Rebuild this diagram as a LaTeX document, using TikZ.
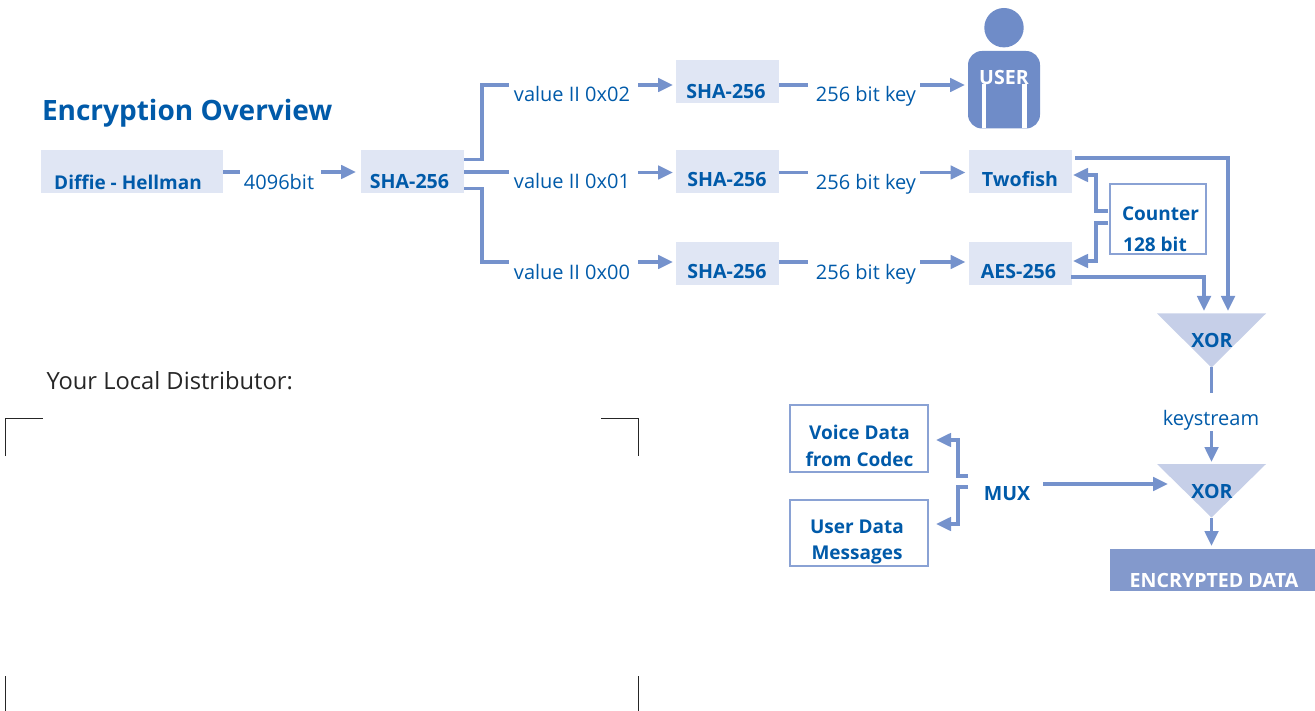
\documentclass[tikz,border=0pt]{standalone}
\usepackage{fontspec}
\setmainfont{Open Sans}
\usetikzlibrary{arrows.meta}
\definecolor{ink}{HTML}{005AA9}
\definecolor{wire}{HTML}{7592CC}
\definecolor{pale}{HTML}{E0E6F4}
\definecolor{tri}{HTML}{C6CFE8}
\definecolor{band}{HTML}{8399CC}
\definecolor{figure}{HTML}{6F8CC8}
\tikzset{
  x=1pt,y=-1pt,
  txt/.style={anchor=base,inner sep=0pt,outer sep=0pt,text=ink,yshift=-0.7pt,font=\fontsize{20}{20}\selectfont},
  btxt/.style={txt,font=\fontsize{19.6}{20}\selectfont\bfseries},
  bsmall/.style={txt,font=\fontsize{19}{20}\selectfont\bfseries},
  wtxt/.style={btxt,text=white},
  palebox/.style={fill=pale,draw=none,minimum width=103pt,minimum height=43pt,inner sep=0pt,outer sep=0pt},
  linebox/.style={draw=wire!85,line width=2pt,fill=white,inner sep=0pt,outer sep=0pt},
  link/.style={draw=wire,line width=3.2pt},
  arrow/.style={link,-{Triangle[length=15pt,width=13.5pt]}},
  crop/.style={draw=black!85,line width=1pt},
}
\begin{document}
\begin{tikzpicture}
\useasboundingbox (0,0) rectangle (1315,711);
% boxes
\node[palebox,minimum width=182pt] (dh) at (132,171.5) {};
\node[palebox] (sha) at (412.5,171.5) {};
\node[palebox] (s2) at (727.5,81.5) {};
\node[palebox] (s1) at (727.5,171.5) {};
\node[palebox] (s0) at (727.5,263.5) {};
\node[palebox] (two) at (1020.5,171.5) {};
\node[palebox] (aes) at (1020.5,263.5) {};
\node[linebox,minimum width=96pt,minimum height=70pt] (ctr) at (1158,219) {};
\node[linebox,minimum width=138pt,minimum height=67pt] (voice) at (859,438.5) {};
\node[linebox,minimum width=138pt,minimum height=66pt] (udata) at (859,533) {};
\node[fill=band,minimum width=205pt,minimum height=42pt,inner sep=0pt,outer sep=0pt] (enc) at (1212.5,570) {};
% user figure
\fill[figure] (1004,27.7) circle (19.7);
\fill[figure,rounded corners=14pt] (968,51) rectangle (1040,128.5);
\fill[white] (982,84) rectangle (986,128.5);
\fill[white] (1022,84) rectangle (1026.5,128.5);
\coordinate (user) at (968,85);
% triangles
\fill[tri] (1157,313.5) -- (1266,313.5) -- (1211.5,367.5) -- cycle;
\fill[tri] (1157,464) -- (1266,464) -- (1211.5,517.5) -- cycle;
\coordinate (x1tip) at (1211.5,367.5);
\coordinate (x2tip) at (1211.5,517.5);
% texts
\node[txt,font=\fontsize{28}{28}\selectfont\bfseries,anchor=base west] (title) at (42,120) {Encryption Overview};
\node[txt,font=\fontsize{23.7}{24}\selectfont,text=black!85,anchor=base west,yshift=0.7pt] (dist) at (46.5,389) {Your Local Distributor:};
\node[bsmall] (tdh) at (128,189) {Diffie - Hellman};
\node[txt] (bits) at (279,189) {4096bit};
\node[btxt] (tsha) at (409.5,188) {SHA-256};
\node[txt] (v2) at (572,101) {value II 0x02};
\node[txt] (v1) at (572,188) {value II 0x01};
\node[txt] (v0) at (572,279) {value II 0x00};
\node[btxt] (ts2) at (726,98) {SHA-256};
\node[btxt] (ts1) at (727,186) {SHA-256};
\node[btxt] (ts0) at (727,278) {SHA-256};
\node[txt] (k2) at (866,101) {256 bit key};
\node[txt] (k1) at (866,189) {256 bit key};
\node[txt] (k0) at (866,279) {256 bit key};
\node[wtxt] (tuser) at (1004,83.5) {USER};
\node[btxt] (ttwo) at (1020,186) {Twofish};
\node[btxt] (taes) at (1018.5,278) {AES-256};
\node[bsmall] (tc1) at (1160.5,220) {Counter};
\node[bsmall] (tc2) at (1155,251) {128 bit};
\node[btxt] (xor1) at (1212,347) {XOR};
\node[btxt] (xor2) at (1212,498) {XOR};
\node[txt] (ks) at (1211,425) {keystream};
\node[bsmall] (tv1) at (859.5,439) {Voice Data};
\node[bsmall] (tv2) at (859.5,466) {from Codec};
\node[bsmall] (tu1) at (857,533) {User Data};
\node[bsmall] (tu2) at (857,559) {Messages};
\node[btxt] (mux) at (1007,500) {MUX};
\node[wtxt] (tenc) at (1214,587) {ENCRYPTED DATA};
% free ends
\coordinate (a1) at (240,172);
\coordinate (a2) at (321,172);
\coordinate (b2) at (509,85);
\coordinate (b1) at (509,172);
\coordinate (b0) at (509,262);
\coordinate (c2) at (638,85);
\coordinate (c1) at (638,172.5);
\coordinate (c0) at (638,262);
\coordinate (d2) at (808,85);
\coordinate (d1) at (808,172.5);
\coordinate (d0) at (808,262);
\coordinate (e2) at (920,85);
\coordinate (e1) at (920,172.5);
\coordinate (e0) at (920,262);
% connectors
\draw[link] (dh.east |- a1) -- (a1);
\draw[arrow] (a2) -- (356,172);
\draw[link] (464,159.5) -| (482,85) -- (b2);
\draw[link] (sha.east |- b1) -- (b1);
\draw[link] (464,188.7) -| (482,262) -- (b0);
\draw[arrow] (c2) -- ([xshift=-3pt]s2.west |- c2);
\draw[arrow] (c1) -- ([xshift=-3pt]s1.west |- c1);
\draw[arrow] (c0) -- ([xshift=-3pt]s0.west |- c0);
\draw[link] (s2.east |- d2) -- (d2);
\draw[link] (s1.east |- d1) -- (d1);
\draw[link] (s0.east |- d0) -- (d0);
\draw[arrow] (e2) -- ([xshift=-3pt]user);
\draw[arrow] (e1) -- ([xshift=-3.5pt]two.west |- e1);
\draw[arrow] (e0) -- ([xshift=-3.5pt]aes.west |- e0);
\draw[arrow] (1108,211) -| (1096,175) -- (1073,175);
\draw[arrow] (1108,223) -| (1096,261) -- (1073,261);
\draw[arrow] (1075,158) -| (1228,311);
\draw[arrow] (1071,277) -| (1204,311);
\draw[link] (x1tip) -- (1211.5,393);
\draw[arrow] (1211.5,431) -- (1211.5,462);
\draw[arrow] (x2tip) -- (1211.5,546);
\draw[arrow] (1043,484) -- (1168,484);
\draw[arrow] (968,476) -| (958,440) -- (936,440);
\draw[arrow] (968,487) -| (958,524) -- (936,524);
% crop marks
\draw[crop] (5,456) -- (5,418) -- (43,418);
\draw[crop] (601,418) -- (638,418) -- (638,456);
\draw[crop] (5,676) -- (5,711);
\draw[crop] (638,676) -- (638,711);
\end{tikzpicture}
\end{document}
